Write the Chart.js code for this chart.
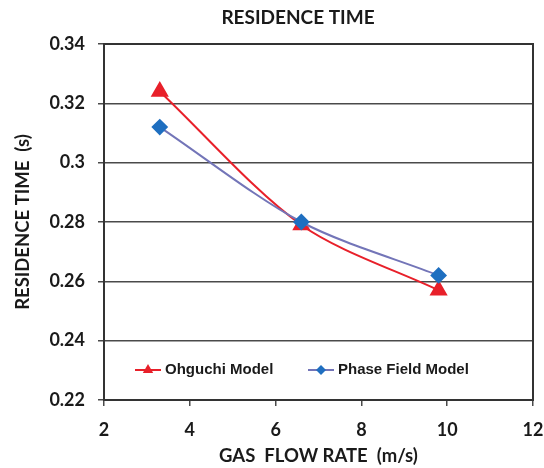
<!DOCTYPE html>
<html>
<head>
<meta charset="utf-8">
<script src="https://cdn.jsdelivr.net/npm/chart.js@4/dist/chart.umd.min.js"></script>
<style>
    html, body { margin: 0; padding: 0; background: #fff; }
    #wrap { width: 544px; height: 468px; }
</style>
</head>
<body>
<div id="wrap"><canvas id="chart"></canvas></div>
<script>
    const gasFlowRate = [3.3, 6.6, 9.8];
    const ohguchiValues = [0.324, 0.279, 0.257];
    const phaseFieldValues = [0.312, 0.280, 0.262];
    const xTickValues = [2, 4, 6, 8, 10, 12];
    const yTickValues = [0.22, 0.24, 0.26, 0.28, 0.3, 0.32, 0.34];

    const chartTitle = 'RESIDENCE TIME';
    const xTitle = 'GAS  FLOW RATE  (m/s)';
    const yTitle = 'RESIDENCE TIME  (s)';

    const RED = '#e8202a';
    const LINE_BLUE = '#7375b8';
    const DOT_BLUE = '#1f6fc0';
    const TEXT = '#1a1a1a';
    const GRID = '#4a4a4a';

    const titleFont = { family: 'Lato, "Open Sans", sans-serif', size: 19, weight: 'bold' };
    const axisTitleFont = { family: 'Lato, "Open Sans", sans-serif', size: 18.5, weight: 'bold' };
    const tickFont = { family: 'Lato, "Open Sans", sans-serif', size: 18, weight: 'bold' };
    const legendFont = 'bold 15px "Liberation Sans", Arial, sans-serif';

    function toPoints(xs, ys) {
        return xs.map((x, i) => ({ x: x, y: ys[i] }));
    }

    // frame around plot area, title, legend inside plot area
    const decorations = {
        id: 'decorations',
        afterDatasetsDraw(chart) {
            const { ctx, chartArea: a } = chart;
            ctx.save();
            ctx.strokeStyle = '#333';
            ctx.lineWidth = 2;
            ctx.strokeRect(a.left, a.top, a.right - a.left, a.bottom - a.top);

            ctx.fillStyle = TEXT;
            ctx.font = `bold ${titleFont.size}px ${titleFont.family}`;
            ctx.textAlign = 'center';
            ctx.textBaseline = 'middle';
            ctx.fillText(chartTitle, 298, 18);

            const y = a.bottom - 30;
            const items = [
                { ds: chart.data.datasets[0], x: 135 },
                { ds: chart.data.datasets[1], x: 308 }
            ];
            ctx.font = legendFont;
            ctx.textAlign = 'left';
            items.forEach(it => {
                ctx.strokeStyle = it.ds.borderColor;
                ctx.lineWidth = 2;
                ctx.beginPath();
                ctx.moveTo(it.x, y);
                ctx.lineTo(it.x + 26, y);
                ctx.stroke();
                ctx.fillStyle = it.ds.pointBackgroundColor;
                const cx = it.x + 13;
                const r = it.ds.pointStyle === 'triangle' ? 6 : 5;
                Chart.helpers.drawPoint(ctx, { pointStyle: it.ds.pointStyle, radius: r, borderWidth: 0 }, cx, y);
                ctx.fillStyle = TEXT;
                ctx.fillText(it.ds.label, it.x + 30, y);
            });
            ctx.restore();
        }
    };

    new Chart(document.getElementById('chart'), {
        type: 'line',
        data: {
            datasets: [
                {
                    label: 'Ohguchi Model',
                    data: toPoints(gasFlowRate, ohguchiValues),
                    borderColor: RED,
                    backgroundColor: RED,
                    pointBackgroundColor: RED,
                    pointBorderColor: RED,
                    pointStyle: 'triangle',
                    pointRadius: 8.5,
                    borderWidth: 2,
                    tension: 0.3,
                    order: 1
                },
                {
                    label: 'Phase Field Model',
                    data: toPoints(gasFlowRate, phaseFieldValues),
                    borderColor: LINE_BLUE,
                    backgroundColor: DOT_BLUE,
                    pointBackgroundColor: DOT_BLUE,
                    pointBorderColor: DOT_BLUE,
                    pointStyle: 'rectRot',
                    pointRadius: 7,
                    borderWidth: 2,
                    tension: 0.3,
                    order: 0
                }
            ]
        },
        options: {
            responsive: true,
            maintainAspectRatio: false,
            animation: false,
            layout: { autoPadding: false, padding: { left: 9, right: 11, top: 44, bottom: 0 } },
            plugins: {
                legend: { display: false },
                tooltip: { enabled: false },
                title: { display: false }
            },
            scales: {
                x: {
                    type: 'linear',
                    min: xTickValues[0],
                    max: xTickValues[xTickValues.length - 1],
                    afterBuildTicks: s => { s.ticks = xTickValues.map(v => ({ value: v })); },
                    afterFit: s => {
                        s.height = 68;
                        s.paddingLeft = 0;
                        s.paddingRight = 0;
                        s._margins.right = 0;
                        s.width = s._length = s.chart.width - s._margins.left;
                    },
                    grid: { drawOnChartArea: false, drawTicks: true, tickLength: 6, color: GRID, lineWidth: 1.5 },
                    border: { display: true, color: '#333', width: 2 },
                    ticks: { color: TEXT, font: tickFont, padding: 13, maxRotation: 0 },
                    title: { display: true, text: xTitle, color: TEXT, font: axisTitleFont, padding: { top: 0, bottom: 1 } }
                },
                y: {
                    min: yTickValues[0],
                    max: yTickValues[yTickValues.length - 1],
                    afterBuildTicks: s => { s.ticks = yTickValues.map(v => ({ value: v })); },
                    afterFit: s => { s.width = 95; s.paddingTop = 0; s.paddingBottom = 0; },
                    grid: { drawOnChartArea: true, drawTicks: true, tickLength: 6, color: GRID, lineWidth: 1.5 },
                    border: { display: true, color: '#333', width: 2 },
                    ticks: {
                        color: TEXT,
                        font: tickFont,
                        padding: 13,
                        callback: v => String(Number(v.toFixed(2)))
                    },
                    title: { display: true, text: yTitle, color: TEXT, font: axisTitleFont, padding: { top: 3, bottom: 0 } }
                }
            }
        },
        plugins: [decorations]
    });
</script>
</body>
</html>
